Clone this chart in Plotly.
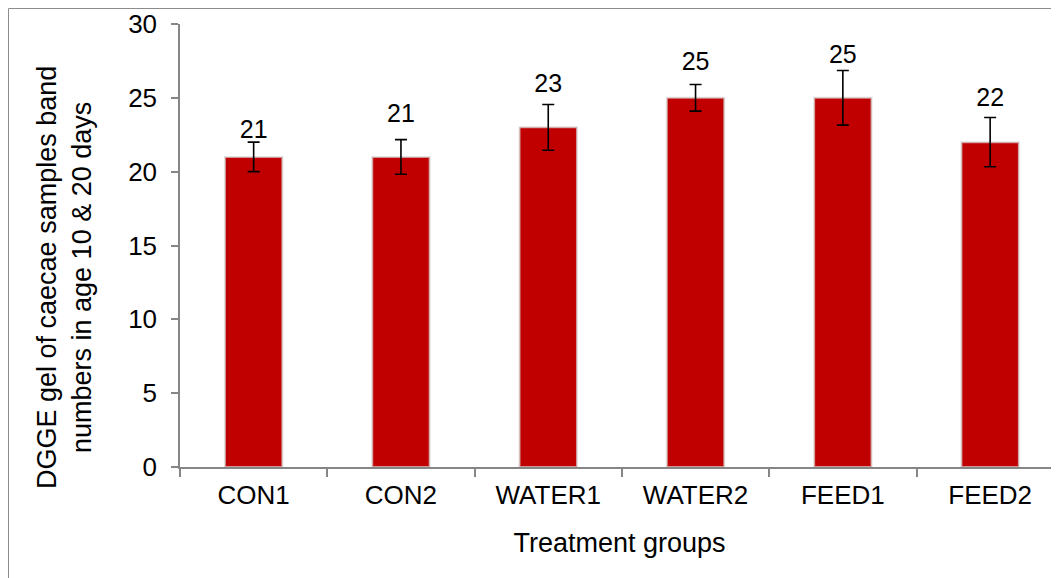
import plotly.graph_objects as go

categories = ["CON1", "CON2", "WATER1", "WATER2", "FEED1", "FEED2"]
values = [21, 21, 23, 25, 25, 22]
errors = [1.0, 1.17, 1.55, 0.9, 1.85, 1.67]
label_y = [22.7, 23.8, 25.8, 27.3, 27.8, 24.9]
y_ticks = [0, 5, 10, 15, 20, 25, 30]
y_title = "DGGE gel of caecae samples band<br>numbers in age 10 & 20 days"
x_title = "Treatment groups"

# page body has an 8px margin; figure is sized to fill the rest of the window
W, H = 1051, 570
ml, mt, mb = 172, 16, 111
mr = 0
font = "Liberation Sans, Arial, sans-serif"

fig = go.Figure()
fig.add_trace(go.Bar(
    x=categories, y=values, width=0.39,
    marker=dict(color="#C00000", line=dict(color="rgba(215,215,215,0.7)", width=2)),
    error_y=dict(type="data", array=errors, visible=True, color="black",
                 thickness=1.6, width=6),
    showlegend=False,
))
fig.add_trace(go.Scatter(
    x=categories, y=label_y, mode="text", text=[str(v) for v in values],
    textfont=dict(family=font, size=25, color="black"),
    textposition="middle center", showlegend=False, hoverinfo="skip",
))

pw = W - ml - mr
ph = H - mt - mb
fx = (0.5 - ml) / pw
fy = 1 + (mt - 0.5) / ph
fig.add_shape(type="line", xref="paper", yref="paper", x0=fx, x1=fx, y0=-1, y1=fy,
              line=dict(color="#8c8c8c", width=1))
fig.add_shape(type="line", xref="paper", yref="paper", x0=fx, x1=1.05, y0=fy, y1=fy,
              line=dict(color="#8c8c8c", width=1))

fig.add_annotation(
    text=y_title, textangle=-90, showarrow=False, align="center",
    xref="paper", yref="paper",
    x=(56 - ml) / pw, y=1 - (270 - mt) / ph,
    xanchor="center", yanchor="middle",
    font=dict(family=font, size=27, color="black"),
)

fig.update_layout(
    width=W, height=H,
    margin=dict(l=ml, r=mr, t=mt, b=mb, autoexpand=False),
    paper_bgcolor="white", plot_bgcolor="white",
    font=dict(family=font, size=26, color="black"),
    xaxis=dict(
        type="category", range=[-0.5, -0.5 + pw / 147.3],
        showline=True, linecolor="#868686", linewidth=1.5,
        ticks="outside", tickson="boundaries", ticklen=8, tickcolor="#868686", tickwidth=1.5,
        tickfont=dict(size=26), showgrid=False, ticklabelstandoff=4,
        title=dict(text=x_title, font=dict(size=27), standoff=24),
    ),
    yaxis=dict(
        range=[0, 30], tickvals=y_ticks,
        showline=True, linecolor="#868686", linewidth=1.5,
        ticks="outside", ticklen=7, tickcolor="#868686", tickwidth=1.5,
        tickfont=dict(size=26), showgrid=False, zeroline=False, ticklabelstandoff=9,
    ),
)

fig.write_html("out.html")
